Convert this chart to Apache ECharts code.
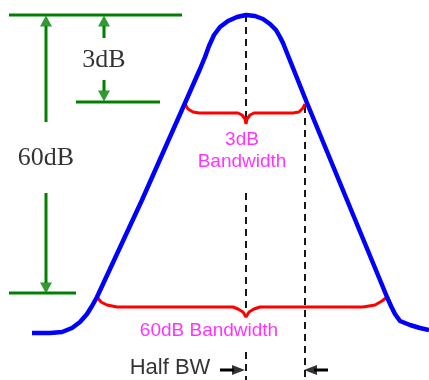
<!DOCTYPE html>
<html><head><meta charset="utf-8">
<script src="https://cdn.jsdelivr.net/npm/echarts@6/dist/echarts.min.js"></script>
<style>html,body{margin:0;padding:0;background:#fff}#c{width:429px;height:380px}</style>
</head><body><div id="c"></div>
<script>
// Filter response curve (x = frequency position, y = attenuation position, top = 0)
const responseCurve = [[32,333],[50,333],[62,332],[72,328],[80,322],[87,314],[92,306],[97,297],
  [142,200],[185,103],[200,69],[205,57],[209,46],[214,35],[220,27],[228,21],[237,17],[246,15],
  [255,16],[263,19],[270,24],[276,30],[280,37],[283,43],[307,103],[347,200],[387,297],
  [391,306],[395,314],[400,321],[410,325],[420,328],[429,330]];
// Reference levels
const topLevel = [[9,15],[182,15]];
const level3dB = [[76,102],[160,102]];
const level60dB = [[9,293],[76,293]];
// Dimension arrows shafts
const shafts = [
  [[46,26],[46,122]], [[46,193],[46,283]],
  [[104,26],[104,38]], [[104,80],[104,91]]
];
const headsUp = [[46,21],[104,21]];
const headsDown = [[104,96],[46,288]];
// Centre and half-bandwidth markers (null = gap behind labels)
const centreLine = [[246,15],[246,121],null,[246,193],[246,310],null,[246,352],[246,380]];
const edgeLine = [[305,106],[305,380]];
// Bandwidth braces
const brace3dB = [[185,104],[188,109],[193,112],[199,113],[238,113],[242,115],[245,119],[246,124],
  [247,119],[250,115],[254,113],[293,113],[299,112],[303,108],[305,104]];
const brace60dB = [[97,297],[101,302],[107,305],[117,307],[233,307],[238,309],[243,312],[246,317],
  [249,312],[254,309],[260,307],[363,307],[375,305],[382,301],[387,297]];
// Half-bandwidth arrows
const halfBwShafts = [[[220,370],[234,370]], [[314,370],[328,370]]];
const halfBwHeadRight = [[238.5,370]];
const halfBwHeadLeft = [[310.5,370]];
// Text
const serifLabels = [{name:'3dB', value:[104,60]}, {name:'60dB', value:[46,158]}];
const bwLabels = [{name:'3dB\nBandwidth', value:[242,151]}, {name:'60dB Bandwidth', value:[209,331]}];
const halfBwLabel = [{name:'Half BW', value:[170,368]}];

const green = '#008000';
const lineSeries = (data, color, width, extra) => Object.assign({
  type:'line', data, symbol:'none', smooth:false, silent:true, connectNulls:false,
  lineStyle:{color, width}
}, extra || {});

const series = [
  lineSeries(topLevel, green, 3),
  lineSeries(level3dB, green, 3),
  lineSeries(level60dB, green, 3),
  ...shafts.map(s => lineSeries(s, green, 3)),
  {type:'scatter', data:headsUp, symbol:'triangle', symbolSize:[12,11], itemStyle:{color:green}, silent:true},
  {type:'scatter', data:headsDown, symbol:'triangle', symbolSize:[12,11], symbolRotate:180, itemStyle:{color:green}, silent:true},
  lineSeries(centreLine.map(p => p === null ? '-' : p), '#000', 1.8, {lineStyle:{color:'#000', width:1.8, type:[7,5]}}),
  lineSeries(edgeLine, '#000', 1.8, {lineStyle:{color:'#000', width:1.8, type:[7,5]}}),
  lineSeries(brace3dB, '#ff0000', 3),
  lineSeries(brace60dB, '#ff0000', 3),
  lineSeries(responseCurve, '#0000ff', 4.5),
  ...halfBwShafts.map(s => lineSeries(s, '#000', 3)),
  {type:'scatter', data:halfBwHeadRight, symbol:'triangle', symbolSize:[10,13], symbolRotate:-90, itemStyle:{color:'#000'}, silent:true},
  {type:'scatter', data:halfBwHeadLeft, symbol:'triangle', symbolSize:[10,13], symbolRotate:90, itemStyle:{color:'#000'}, silent:true},
  {type:'scatter', data:serifLabels, symbolSize:0, silent:true,
   label:{show:true, position:'inside', formatter:'{b}', color:'#000', fontFamily:'Liberation Serif', fontSize:26}},
  {type:'scatter', data:bwLabels, symbolSize:0, silent:true,
   label:{show:true, position:'inside', formatter:'{b}', color:'#ff00ff', fontFamily:'Liberation Sans', fontSize:19, lineHeight:22}},
  {type:'scatter', data:halfBwLabel, symbolSize:0, silent:true,
   label:{show:true, position:'inside', formatter:'{b}', color:'#000', fontFamily:'Liberation Sans', fontSize:22}}
];

const chart = echarts.init(document.getElementById('c'), null, {renderer:'canvas'});
chart.setOption({
  animation:false,
  backgroundColor:'#fff',
  grid:{left:0, right:0, top:0, bottom:0},
  xAxis:{type:'value', min:0, max:429, show:false},
  yAxis:{type:'value', min:0, max:380, inverse:true, show:false},
  series
});
</script></body></html>
